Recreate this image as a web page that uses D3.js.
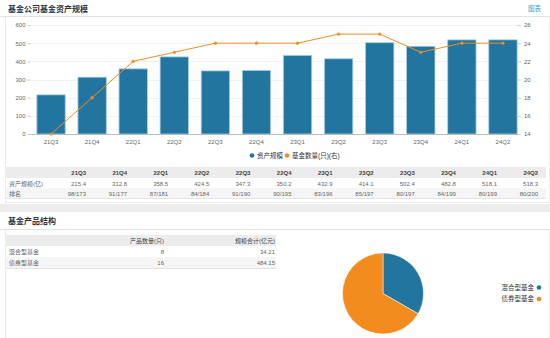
<!DOCTYPE html>
<html><head><meta charset="utf-8">
<script src="https://cdn.jsdelivr.net/npm/d3@7/dist/d3.min.js"></script>
<style>
html,body{margin:0;padding:0;background:#fff;}
svg{display:block;font-family:"Liberation Sans","Noto Sans CJK SC",sans-serif;}
</style></head><body>
<svg id="c" width="550" height="338"></svg>
<script>
const quarters = ["21Q3","21Q4","22Q1","22Q2","22Q3","22Q4","23Q1","23Q2","23Q3","23Q4","24Q1","24Q2"];
const assets = [215.4,312.8,358.5,424.5,347.3,350.2,432.9,414.1,502.4,482.8,518.1,518.3];
const fundCount = [14,18,22,23,24,24,24,25,25,23,24,24];
const ranks = ["98/173","91/177","87/181","84/184","91/190","90/195","83/196","85/197","80/197","84/199","80/199","80/200"];
const leftTicks = [0,100,200,300,400,500,600];
const rightTicks = [14,16,18,20,22,24,26];
const prodTypes = ["混合型基金","债券型基金"];
const prodCounts = [8,16];
const prodScale = ["34.21","484.15"];

const BLUE = "#21759f", ORANGE = "#f28c1e";
const svg = d3.select("#c");

// panel borders
svg.append("rect").attr("x",5.5).attr("y",16.5).attr("width",544).attr("height",186).attr("fill","none").attr("stroke","#ececec");
svg.append("rect").attr("x",0).attr("y",204).attr("width",550).attr("height",8).attr("fill","#ededed");
svg.append("rect").attr("x",5.5).attr("y",229.5).attr("width",544).attr("height",110).attr("fill","none").attr("stroke","#ececec");

// headers
svg.append("text").attr("x",8).attr("y",12).attr("font-size",8).attr("font-weight","bold").attr("fill","#333").attr("font-family","Noto Sans CJK SC").text("基金公司基金资产规模");
svg.append("text").attr("x",541).attr("y",11).attr("font-size",6.5).attr("text-anchor","end").attr("fill","#3a9fc0").text("图表");
svg.append("line").attr("x1",0).attr("x2",550).attr("y1",16.5).attr("y2",16.5).attr("stroke","#e2e2e2");

const x = d3.scaleBand().domain(quarters).range([30.5,523.5]).paddingInner(0.31).paddingOuter(0.155);
const yL = d3.scaleLinear().domain([0,600]).range([134,25]);
const yR = d3.scaleLinear().domain([14,26]).range([134,25]);

// grid
svg.append("g").selectAll("line").data(leftTicks.slice(1)).join("line")
  .attr("x1",30.5).attr("x2",518).attr("y1",d=>Math.round(yL(d))+0.5).attr("y2",d=>Math.round(yL(d))+0.5)
  .attr("stroke","#f2f2f2");

// bars
svg.append("g").selectAll("rect").data(quarters).join("rect")
  .attr("x",d=>x(d)).attr("width",x.bandwidth())
  .attr("y",(d,i)=>yL(assets[i])).attr("height",(d,i)=>yL(0)-yL(assets[i]))
  .attr("fill",BLUE).attr("stroke","#a9cde2").attr("stroke-width",0.8);

// axes
const axL = svg.append("g").attr("transform","translate(30.5,0)")
  .call(d3.axisLeft(yL).tickValues(leftTicks).tickSize(3).tickPadding(2));
axL.select(".domain").remove();
axL.selectAll("line").attr("stroke","#ccc");
axL.selectAll("text").attr("font-size",6).attr("fill","#666");

const axR = svg.append("g").attr("transform","translate(518,0)")
  .call(d3.axisRight(yR).tickValues(rightTicks).tickSize(3).tickPadding(3));
axR.select(".domain").remove();
axR.selectAll("line").attr("stroke","#ccc");
axR.selectAll("text").attr("font-size",6).attr("fill","#666");

const axB = svg.append("g").attr("transform","translate(0,134.5)")
  .call(d3.axisBottom(x).tickSize(0).tickPadding(5));
axB.select(".domain").attr("stroke","#bbb").attr("d","M30.5,0H518");
axB.selectAll("text").attr("font-size",6).attr("fill","#666");

// line
const line = d3.line().x((d,i)=>x(quarters[i])+x.bandwidth()/2).y(d=>yR(d));
svg.append("path").datum(fundCount).attr("d",line).attr("fill","none").attr("stroke",ORANGE).attr("stroke-width",1);
svg.append("g").selectAll("circle").data(fundCount).join("circle")
  .attr("cx",(d,i)=>x(quarters[i])+x.bandwidth()/2).attr("cy",d=>yR(d)).attr("r",1.6).attr("fill",ORANGE);

// legend
const lg = svg.append("g").attr("font-size",6.5).attr("fill","#333");
lg.append("circle").attr("cx",252).attr("cy",155.5).attr("r",2.3).attr("fill",BLUE);
lg.append("text").attr("x",257).attr("y",158).text("资产规模");
lg.append("circle").attr("cx",287).attr("cy",155.5).attr("r",2.3).attr("fill",ORANGE);
lg.append("text").attr("x",292).attr("y",158).text("基金数量(只)(右)");

// table 1
const t1 = svg.append("g").attr("font-size",6).attr("fill","#666");
t1.append("rect").attr("x",6).attr("y",167).attr("width",540).attr("height",11).attr("fill","#ececec");
t1.append("rect").attr("x",6).attr("y",188).attr("width",540).attr("height",10).attr("fill","#f5f5f5");
t1.append("line").attr("x1",6).attr("x2",546).attr("y1",198.5).attr("y2",198.5).attr("stroke","#e4e4e4");
const colX = i => 86 + i*41.1;
t1.selectAll(".h").data(quarters).join("text").attr("class","h")
  .attr("x",(d,i)=>colX(i)).attr("y",175).attr("text-anchor","end").attr("font-weight","bold").attr("fill","#444").text(d=>d);
t1.selectAll(".v").data(assets).join("text").attr("class","v")
  .attr("x",(d,i)=>colX(i)).attr("y",185.5).attr("text-anchor","end").text(d=>d.toFixed(1));
t1.selectAll(".r").data(ranks).join("text").attr("class","r")
  .attr("x",(d,i)=>colX(i)).attr("y",195.5).attr("text-anchor","end").text(d=>d);
t1.append("text").attr("x",9).attr("y",185.5).text("资产规模(亿)");
t1.append("text").attr("x",9).attr("y",195.5).text("排名");

// section 2
svg.append("text").attr("x",8).attr("y",224).attr("font-size",8).attr("font-weight","bold").attr("fill","#333").attr("font-family","Noto Sans CJK SC").text("基金产品结构");
svg.append("line").attr("x1",0).attr("x2",550).attr("y1",229.5).attr("y2",229.5).attr("stroke","#e2e2e2");

const t2 = svg.append("g").attr("font-size",6).attr("fill","#666");
t2.append("rect").attr("x",6).attr("y",235).attr("width",270).attr("height",11).attr("fill","#ececec");
t2.append("rect").attr("x",6).attr("y",257).attr("width",270).attr("height",11).attr("fill","#f5f5f5");
t2.append("line").attr("x1",6).attr("x2",276).attr("y1",268.5).attr("y2",268.5).attr("stroke","#e4e4e4");
t2.append("text").attr("x",164).attr("y",243).attr("text-anchor","end").attr("fill","#444").text("产品数量(只)");
t2.append("text").attr("x",275).attr("y",243).attr("text-anchor","end").attr("fill","#444").text("规模合计(亿元)");
prodTypes.forEach((p,i)=>{
  const yy = 254 + i*11;
  t2.append("text").attr("x",9).attr("y",yy).text(p);
  t2.append("text").attr("x",164).attr("y",yy).attr("text-anchor","end").text(prodCounts[i]);
  t2.append("text").attr("x",275).attr("y",yy).attr("text-anchor","end").text(prodScale[i]);
});

// pie
const pie = d3.pie().sort(null).value(d=>d)(prodCounts);
const arc = d3.arc().innerRadius(0).outerRadius(40.5);
const colors = [BLUE, ORANGE];
svg.append("g").attr("transform","translate(383,293.5)").selectAll("path").data(pie).join("path")
  .attr("d",arc).attr("fill",(d,i)=>colors[i]).attr("stroke","#fff").attr("stroke-width",0.5);

const pl = svg.append("g").attr("font-size",6.5).attr("fill","#333");
prodTypes.forEach((p,i)=>{
  const yy = 287.5 + i*11.5;
  pl.append("circle").attr("cx",539).attr("cy",yy).attr("r",2.3).attr("fill",colors[i]);
  pl.append("text").attr("x",534).attr("y",yy+2.3).attr("text-anchor","end").text(p);
});
</script>
</body></html>
